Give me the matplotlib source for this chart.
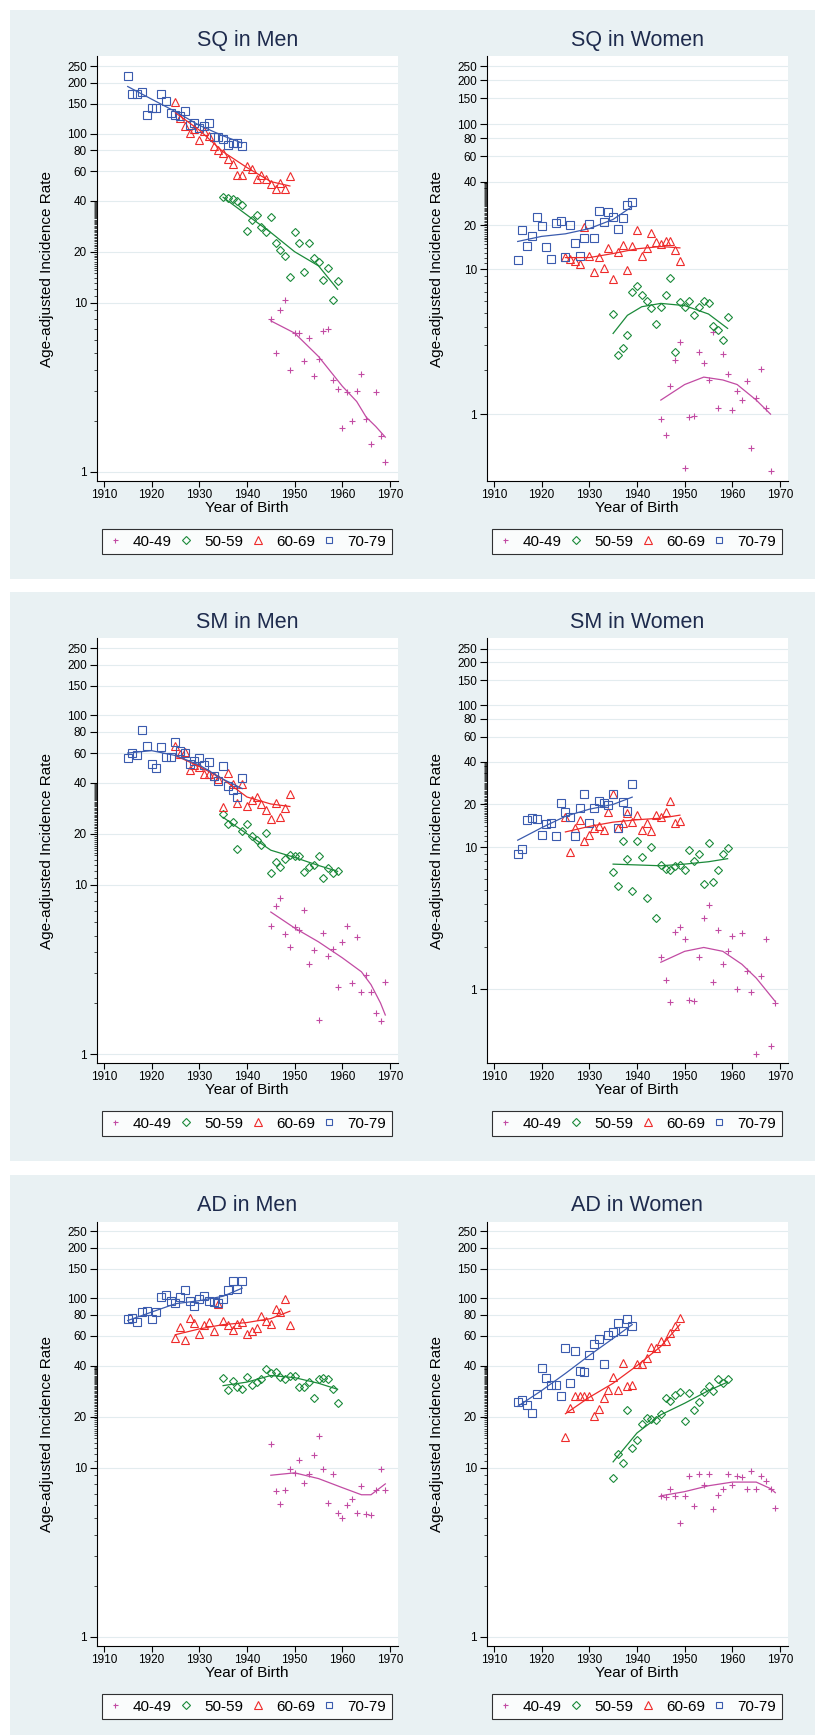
import matplotlib
matplotlib.use('Agg')
import matplotlib.pyplot as plt
from matplotlib.lines import Line2D
from matplotlib.patches import Rectangle
from matplotlib.ticker import NullFormatter

plt.rcParams['font.family'] = ['Liberation Sans', 'DejaVu Sans']

# birth years per age group
yrs_40 = list(range(1945, 1970))
yrs_50 = list(range(1935, 1960))
yrs_60 = list(range(1925, 1950))
yrs_70 = list(range(1915, 1940))

# ---- SQ in Men
sq_men_40 = [8.0, 5.05, 9.1, 10.4, 4.0, 6.6, 6.6, 4.5, 6.2, 3.7, 4.66, 6.8, 7.0, 3.5, 3.1,
             1.82, 2.95, 2.0, 2.98, 3.8, 2.06, 1.46, 2.95, 1.62, 1.14]
sq_men_50 = [42, 41.5, 41, 40, 38, 26.5, 31, 33, 28, 26, 32, 22.5, 20.6, 18.8, 14.2, 26,
             22.4, 15.1, 22.4, 18.3, 17.4, 13.6, 16, 10.3, 13.4]
sq_men_60 = [154, 124, 111, 101, 106, 92, 103, 97, 84, 80, 77, 71, 66, 57, 57, 64, 62, 54,
             57, 54, 50, 47, 51, 47, 56]
sq_men_70 = [218, 172, 172, 176, 129, 142, 141, 172, 156, 133, 129, 127, 137, 112, 116, 108,
             111, 116, 95, 95, 93, 86, 88, 88, 85]
sq_men_fit40 = ([1945, 1950, 1955, 1960, 1963, 1965, 1967, 1969], [7.8, 6.6, 4.8, 3.2, 2.6, 2.1, 1.85, 1.6])
sq_men_fit50 = ([1935, 1940, 1945, 1950, 1955, 1959], [42, 33, 26, 20, 16.5, 12])
sq_men_fit60 = ([1925, 1930, 1935, 1940, 1945, 1949], [133, 105, 78, 63, 52, 49])
sq_men_fit70 = ([1915, 1920, 1925, 1930, 1935, 1939], [190, 160, 135, 112, 97, 88])

# ---- SQ in Women
sq_wom_40 = [0.93, 0.72, 1.57, 2.38, 3.13, 0.425, 0.96, 0.97, 2.68, 2.24, 1.73, 3.66, 1.11,
             2.6, 1.88, 1.07, 1.45, 1.25, 1.70, 0.58, 1.30, 2.05, 1.11, 0.405]
sq_wom_50 = [4.9, 2.54, 2.86, 3.5, 7.0, 7.6, 6.6, 6.0, 5.4, 4.2, 5.5, 6.6, 8.7, 2.7, 5.9,
             5.5, 6.0, 4.8, 5.5, 6.0, 5.8, 4.05, 3.8, 3.24, 4.7]
sq_wom_60 = [12.1, 11.8, 11.3, 10.9, 19.4, 12.3, 9.5, 12.1, 10.2, 14, 8.5, 13.2, 14.7, 9.9,
             14.5, 18.6, 12.3, 14, 17.7, 15.3, 14.9, 15.7, 15.7, 13.6, 11.3]
sq_wom_70 = [11.6, 18.7, 14.5, 17.0, 23, 19.7, 14.3, 11.7, 20.7, 21.4, 12.1, 20.1, 15.1, 12.4,
             16.5, 20.6, 16.5, 25, 21, 24.7, 22.9, 18.9, 22.5, 27.8, 29]
sq_wom_fit40 = ([1945, 1950, 1954, 1958, 1961, 1965, 1968], [1.25, 1.6, 1.8, 1.72, 1.6, 1.25, 1.0])
sq_wom_fit50 = ([1935, 1938, 1941, 1945, 1950, 1955, 1959], [3.6, 4.8, 5.5, 5.8, 5.6, 4.9, 3.9])
sq_wom_fit60 = ([1925, 1930, 1935, 1940, 1945, 1949], [12, 12, 12.8, 13.8, 14.3, 14])
sq_wom_fit70 = ([1915, 1920, 1925, 1930, 1935, 1939], [15.5, 16.8, 17.5, 19, 22, 27])

# ---- SM in Men
sm_men_40 = [5.7, 7.5, 8.4, 5.1, 4.3, 5.6, 5.4, 7.1, 3.4, 4.1, 1.58, 5.2, 3.8, 4.2, 2.5, 4.6,
             5.7, 2.63, 4.9, 2.32, 2.94, 2.32, 1.75, 1.57, 2.66]
sm_men_50 = [26.1, 22.7, 23.6, 16.3, 20.9, 23, 19.5, 18.5, 17.1, 20.3, 11.7, 13.7, 12.8, 14.2,
             15, 14.7, 14.7, 11.9, 12.8, 13.1, 14.7, 11, 12.5, 11.7, 12]
sm_men_60 = [66, 59, 61, 47.7, 51, 49.7, 44.9, 44.9, 44.2, 42.3, 28.8, 46, 39.6, 30.3, 39.2,
             29.2, 31.5, 33.1, 29.9, 27.5, 24.5, 30.4, 25.1, 28.5, 34.5]
sm_men_70 = [56.4, 60, 58.7, 81.6, 66, 51.7, 49, 65, 57, 57, 69.8, 62, 60.3, 51.7, 53.6, 56.4,
             51, 52.8, 43.8, 41.2, 50.2, 38.4, 36.5, 33.1, 42.7]
sm_men_fit40 = ([1945, 1950, 1955, 1960, 1964, 1966, 1968, 1969], [6.9, 5.55, 4.6, 3.7, 3.06, 2.57, 2.0, 1.7])
sm_men_fit50 = ([1935, 1940, 1945, 1950, 1955, 1959], [25, 20, 16, 14.5, 13, 12])
sm_men_fit60 = ([1925, 1930, 1935, 1940, 1945, 1949], [58, 50, 42, 33, 30, 29])
sm_men_fit70 = ([1915, 1920, 1925, 1930, 1935, 1939], [60, 62, 58, 51, 42, 37])

# ---- SM in Women
sm_wom_40 = [1.69, 1.16, 0.82, 2.53, 2.74, 2.25, 0.84, 0.83, 1.69, 3.2, 3.9, 1.12, 2.6, 1.5,
             1.85, 2.36, 1.01, 2.5, 1.34, 0.965, 0.352, 1.25, 2.25, 0.40, 0.80]
sm_wom_50 = [6.65, 5.3, 11, 8.3, 4.9, 11, 8.5, 4.4, 10, 3.2, 7.55, 7.0, 6.9, 7.4, 7.55, 6.9,
             9.6, 8.0, 8.9, 5.5, 10.7, 5.65, 6.9, 9.0, 9.9]
sm_wom_60 = [16.4, 9.2, 13.7, 15.6, 11, 12.2, 13.7, 14.2, 13.2, 17.6, 23.8, 13.6, 14.9, 17.3,
             15.1, 16.8, 13.3, 14.9, 13.1, 16.8, 16.4, 17.8, 21.1, 14.7, 15.3]
sm_wom_70 = [8.9, 9.7, 15.5, 16, 15.8, 12.2, 14.6, 14.9, 11.9, 20.3, 17.8, 16.3, 11.9, 18.9,
             23.6, 14.7, 18.9, 21, 20.5, 19.7, 23.6, 13.7, 20.7, 18.1, 28]
sm_wom_fit40 = ([1945, 1950, 1954, 1958, 1962, 1965, 1969], [1.55, 1.85, 1.97, 1.85, 1.5, 1.2, 0.82])
sm_wom_fit50 = ([1935, 1940, 1945, 1950, 1955, 1959], [7.6, 7.5, 7.4, 7.6, 7.9, 8.3])
sm_wom_fit60 = ([1925, 1930, 1935, 1940, 1945, 1949], [12.8, 14, 15, 15.6, 16, 16.8])
sm_wom_fit70 = ([1915, 1920, 1925, 1930, 1935, 1939], [11.2, 13.7, 16.5, 18.5, 20, 22.5])

# ---- AD in Men
ad_men_40 = [13.8, 7.25, 6.1, 7.4, 9.8, 9.3, 11.1, 8.1, 9.2, 11.8, 15.4, 9.8, 6.2, 9.2, 5.4,
             5.0, 6.0, 6.5, 5.4, 7.8, 5.3, 5.25, 7.4, 9.8, 7.4]
ad_men_50 = [34, 28.8, 32.7, 30.1, 29.3, 34.4, 30.8, 32.2, 33.5, 38, 36.1, 36.5, 34.4, 33.5,
             34.7, 34.7, 30, 30, 31.9, 25.7, 33.2, 33.8, 33.2, 29.3, 24.2]
ad_men_60 = [58.2, 67.6, 56.7, 76.7, 71.8, 62, 69.3, 73, 64.3, 92.7, 74, 70, 65.3, 71, 73, 62,
             64.3, 67, 78.2, 73.6, 71, 86.5, 82.6, 99.5, 69.3]
ad_men_70 = [75.9, 76.7, 73, 83.5, 84.3, 75.5, 83.5, 102, 105, 97, 93.7, 102, 112, 97, 90.4,
             99.5, 103.5, 96, 95, 93.7, 99.5, 112, 126.5, 113, 126.5]
ad_men_fit40 = ([1945, 1950, 1955, 1960, 1964, 1966, 1969], [9.0, 9.3, 8.6, 7.6, 6.9, 6.9, 8.0])
ad_men_fit50 = ([1935, 1940, 1945, 1950, 1955, 1959], [30.5, 32, 35, 34, 31.5, 29])
ad_men_fit60 = ([1925, 1930, 1935, 1940, 1945, 1949], [61, 66, 70, 72, 76, 84])
ad_men_fit70 = ([1915, 1920, 1925, 1930, 1935, 1939], [74, 83, 93, 97, 103, 115])

# ---- AD in Women
ad_wom_40 = [6.8, 6.7, 7.5, 6.8, 4.7, 6.8, 8.95, 5.9, 9.2, 7.9, 9.1, 5.65, 6.9, 7.5, 9.2, 7.9,
             8.95, 8.8, 7.5, 9.5, 7.5, 8.95, 8.3, 7.5, 5.8]
ad_wom_50 = [8.7, 12, 10.7, 21.9, 13.1, 14.5, 18.1, 19.6, 19.3, 19.1, 20.6, 25.8, 24.8, 26.7,
             27.8, 18.8, 27.4, 21.9, 24.5, 27.8, 30.3, 28.4, 33.2, 31.7, 33.2]
ad_wom_60 = [15.2, 22.4, 26.3, 26.3, 26.3, 26.3, 20.1, 22.3, 25.8, 28.8, 34.4, 28.8, 41.6,
             30.3, 30.8, 40.9, 40.9, 44.2, 51.8, 50.8, 55.9, 56, 62.1, 68.3, 76.7]
ad_wom_70 = [24.4, 25.2, 23.3, 21.1, 27.2, 38.6, 33.8, 30.6, 30.9, 26.3, 50.6, 31.4, 48.8, 37,
             36.7, 46.4, 53.4, 57.9, 40.7, 61.1, 63.3, 71.1, 64.3, 75.9, 68.3]
ad_wom_fit40 = ([1945, 1950, 1955, 1960, 1965, 1968, 1969], [6.8, 7.2, 7.8, 8.2, 8.2, 7.5, 7.1])
ad_wom_fit50 = ([1935, 1940, 1945, 1950, 1955, 1959], [10.8, 16, 20.5, 24, 28.5, 32])
ad_wom_fit60 = ([1925, 1930, 1935, 1940, 1945, 1949], [20.8, 26, 31.5, 40, 52, 70])
ad_wom_fit70 = ([1915, 1920, 1925, 1930, 1935, 1939], [23, 28.5, 36, 46, 58, 70])

groups = ['40-49', '50-59', '60-69', '70-79']
colors = ['#C24BA3', '#1B8A3A', '#EE2A2A', '#3A5BAE']
markers = ['+', 'D', '^', 's']
msizes = [4.4, 4.2, 5.8, 5.2]
leg_sizes = [3.6, 4.2, 5.4, 5.0]

ytick_vals = [1, 10, 20, 40, 60, 80, 100, 150, 200, 250]
minor_vals = [2, 3, 4, 5, 6, 7, 8, 9, 11, 12, 13, 14] + [h / 2 for h in range(30, 80) if h != 40]

panels = [
    ('SQ in Men', [sq_men_40, sq_men_50, sq_men_60, sq_men_70],
     [sq_men_fit40, sq_men_fit50, sq_men_fit60, sq_men_fit70], (0.88, 286)),
    ('SQ in Women', [sq_wom_40, sq_wom_50, sq_wom_60, sq_wom_70],
     [sq_wom_fit40, sq_wom_fit50, sq_wom_fit60, sq_wom_fit70], (0.346, 292)),
    ('SM in Men', [sm_men_40, sm_men_50, sm_men_60, sm_men_70],
     [sm_men_fit40, sm_men_fit50, sm_men_fit60, sm_men_fit70], (0.885, 285)),
    ('SM in Women', [sm_wom_40, sm_wom_50, sm_wom_60, sm_wom_70],
     [sm_wom_fit40, sm_wom_fit50, sm_wom_fit60, sm_wom_fit70], (0.303, 294)),
    ('AD in Men', [ad_men_40, ad_men_50, ad_men_60, ad_men_70],
     [ad_men_fit40, ad_men_fit50, ad_men_fit60, ad_men_fit70], (0.88, 285)),
    ('AD in Women', [ad_wom_40, ad_wom_50, ad_wom_60, ad_wom_70],
     [ad_wom_fit40, ad_wom_fit50, ad_wom_fit60, ad_wom_fit70], (0.88, 285)),
]

W, H = 815, 1735
fig = plt.figure(figsize=(W / 100, H / 100), dpi=100)
fig.patch.set_facecolor('white')
bg = '#E9F1F3'
title_col = '#1E2B4D'

row_boxes = [(10, 579), (592, 1161), (1175, 1735)]
for top, bot in row_boxes:
    fig.add_artist(Rectangle((10 / W, 1 - bot / H), (W - 10) / W, (bot - top) / H,
                             transform=fig.transFigure, facecolor=bg, edgecolor='none', zorder=-5))

col_left = [96.7, 486.7]
pw = 301

for i, (title, series, fits, ylim) in enumerate(panels):
    r, c = divmod(i, 2)
    btop = row_boxes[r][0]
    ptop = btop + 46.5
    pbot = btop + 471
    left = col_left[c]
    ax = fig.add_axes([left / W, 1 - pbot / H, pw / W, (pbot - ptop) / H])
    ax.set_facecolor('white')

    years = [yrs_40, yrs_50, yrs_60, yrs_70]
    for k in range(4):
        yv = series[k]
        xv = years[k][:len(yv)]
        ax.plot(xv, yv, linestyle='none', marker=markers[k], ms=msizes[k],
                mfc='none', mec=colors[k], mew=0.8, zorder=3)
        fx, fy = fits[k]
        ax.plot(fx, fy, color=colors[k], lw=0.9, zorder=4)

    ax.set_yscale('log')
    ax.set_ylim(*ylim)
    ax.set_xlim(1908.5, 1971.6)
    ax.set_yticks(ytick_vals)
    ax.set_yticklabels([str(v) for v in ytick_vals])
    ax.set_yticks(minor_vals, minor=True)
    ax.yaxis.set_minor_formatter(NullFormatter())
    ax.set_xticks(range(1910, 1971, 10))
    ax.tick_params(axis='y', which='major', length=5, width=0.8, labelsize=8.5, pad=2)
    ax.tick_params(axis='y', which='minor', length=2.5, width=0.5)
    ax.tick_params(axis='x', which='major', length=4, width=0.8, labelsize=8.5, pad=2)
    ax.tick_params(axis='x', which='minor', length=0)
    ax.yaxis.grid(True, which='major', color='#E3ECEF', lw=0.8)
    ax.set_axisbelow(True)
    for s in ['top', 'right']:
        ax.spines[s].set_visible(False)
    for s in ['left', 'bottom']:
        ax.spines[s].set_linewidth(0.8)

    cx = left + pw / 2
    fig.text(cx / W, 1 - (btop + 30.5) / H, title, ha='center', va='center',
             fontsize=15.5, color=title_col)
    fig.text(cx / W, 1 - (btop + 498) / H, 'Year of Birth', ha='center', va='center', fontsize=11)
    fig.text((left - 50) / W, 1 - ((ptop + pbot) / 2) / H, 'Age-adjusted Incidence Rate',
             rotation=90, ha='center', va='center', fontsize=11)

    handles = [Line2D([], [], linestyle='none', marker=markers[k], ms=leg_sizes[k], mfc='none',
                      mec=colors[k], mew=0.8) for k in range(4)]
    ltop = btop + 517
    leg = fig.legend(handles, groups, loc='center', ncol=4, mode='expand',
                     bbox_to_anchor=((left + 5) / W, 1 - (ltop + 29) / H, 290 / W, 29 / H),
                     fontsize=11, frameon=True, fancybox=False, borderaxespad=0,
                     handlelength=1.0, handletextpad=0.7, borderpad=0.35, columnspacing=0.8)
    leg.get_frame().set_edgecolor('black')
    leg.get_frame().set_linewidth(0.8)

fig.savefig('out.png', dpi=100, facecolor='white')
